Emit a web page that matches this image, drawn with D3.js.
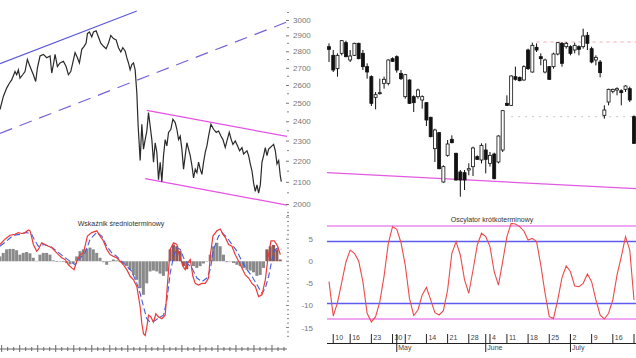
<!DOCTYPE html>
<html><head><meta charset="utf-8">
<script src="https://cdn.jsdelivr.net/npm/d3@7"></script>
<style>body{margin:0;background:#fff}svg{display:block}text{font-family:"Liberation Sans",Arial,sans-serif}</style>
</head><body>
<svg id="c" width="636" height="358"></svg>
<script>
// ---------- LEFT: price line (session index, price) ----------
const priceDay = [0,10,20,28,35,45,50,55,60,68,75,82,90,100,107,112,120,130,140,150,155,160,165,172,180,190,198,205,212,218,225,232,238,245,252,258,262,268,275,280,288,295,302,310,318,325,332,340,348,355,362,368,375,380,385,390,395,400,405,410,414,420,425,430,435,440,445,450,455,460,465,470,475,480,485,490,495,500,505,512,518,525,530,535,540,545,550,555,560,565,570,575,580,585,590,595,600,605,610,615,620,625,632,640,648,655,662,668,675,680,687,693,698,705,712,718,725,730,735,740,745,750,755,760,765,770,775,780,785,790,795,800,805,810,815,820,825,830,835,840,843];
const priceVal = [2463,2535,2582,2610,2629,2678,2659,2688,2639,2659,2678,2750,2708,2659,2620,2698,2771,2781,2761,2771,2669,2719,2781,2708,2729,2739,2708,2659,2678,2729,2792,2761,2729,2812,2831,2851,2911,2922,2890,2922,2929,2890,2851,2831,2816,2851,2900,2880,2871,2822,2796,2822,2802,2761,2729,2688,2719,2729,2688,2554,2375,2201,2384,2257,2305,2349,2446,2375,2305,2193,2289,2241,2110,2193,2101,2225,2305,2273,2342,2358,2411,2393,2358,2305,2323,2257,2160,2225,2289,2257,2225,2177,2118,2160,2143,2193,2160,2135,2193,2241,2273,2323,2384,2358,2342,2349,2323,2305,2265,2298,2342,2305,2281,2298,2273,2249,2265,2233,2241,2249,2225,2185,2152,2094,2056,2086,2049,2086,2193,2225,2265,2225,2257,2265,2273,2281,2249,2185,2201,2127,2101];
const mainTicks = [3000,2900,2800,2700,2600,2500,2400,2300,2200,2100,2000];
const mainMinor = [3050,2950,2850,2750,2650,2550,2450,2350,2250,2150,2050,1950];
// channel lines: [day0, price0, day1, price1]
const upperBlue = [0,2725,410,3060];
const dashedBlue = [0,2337,860,2987];
const magentaTop = [440,2458,860,2321];
const magentaBot = [435,2115,860,1995];

// ---------- LEFT: MACD ----------
const redDay = [0,15,30,45,55,65,75,85,90,95,100,110,115,125,135,145,155,165,175,185,195,205,215,222,230,240,250,262,275,290,300,310,320,330,340,350,360,370,380,390,400,410,420,425,430,435,440,445,452,460,467,475,485,495,502,510,520,530,535,540,548,555,562,570,578,585,595,605,615,625,630,638,650,660,668,675,685,695,705,715,725,735,745,755,765,775,785,795,803,812,822,832,840];
const redVal = [3.8,5.0,5.9,6.1,6.5,6.3,6.5,7.1,6.9,5.4,3.8,2.3,2.7,4.2,3.8,3.4,3.1,2.3,1.5,0.8,0.4,-0.8,-1.5,-1.9,0,1.5,1.9,5.7,6.5,6.9,5.7,4.6,2.7,1.5,1.1,0.8,0,-0.8,-1.9,-3.4,-4.2,-5.7,-10.3,-14.1,-16.4,-16.8,-14.9,-12.2,-12.6,-13.8,-11.9,-12.6,-13.0,-12.2,-5.0,2.7,4.2,3.8,1.9,0.8,-1.1,-1.9,-0.4,0.4,-3.4,-5.0,-5.4,-5.0,-5.0,-3.8,1.1,5.7,6.9,7.3,6.1,5.4,3.8,3.4,1.5,0,-1.5,-3.1,-3.8,-5.0,-5.7,-8.0,-7.6,-4.2,0.8,4.6,4.6,3.4,1.5];
const blueDay = [0,20,40,60,80,95,105,115,130,150,170,190,210,225,240,255,270,290,305,320,335,350,365,380,395,410,420,430,440,450,465,480,490,500,510,520,530,540,550,560,575,590,605,620,630,640,655,665,680,695,710,725,740,755,770,785,795,805,815,825,835,843];
const blueVal = [3.4,4.6,5.9,6.1,6.5,6.1,4.6,3.4,3.8,3.4,2.3,1.1,0,-0.8,0.8,1.9,5.0,6.5,5.7,3.4,1.9,1.1,0,-1.1,-2.3,-5.0,-7.3,-10.3,-13.0,-13.8,-13.4,-12.6,-12.2,-8.8,-2.7,1.1,3.1,2.7,0.8,-0.4,-1.5,-3.8,-4.6,-3.8,-1.9,2.7,5.7,6.5,5.4,3.8,2.3,0,-1.9,-3.4,-5.3,-7.3,-6.1,-3.4,0.4,2.7,3.1,2.7];
const histDay = [0,10,20,30,40,50,60,70,80,90,100,110,120,130,140,150,160,170,180,190,200,210,220,230,240,250,260,270,280,290,300,310,320,330,340,350,360,370,380,390,400,410,420,430,440,450,460,470,480,490,500,510,520,530,540,550,560,570,580,590,600,610,620,630,640,650,660,670,680,690,700,710,720,730,740,750,760,770,780,790,800,810,820,830,840];
const histVal = [1.1,1.9,2.7,2.8,2.8,2.5,1.5,1.9,2.1,1.8,0.8,0.1,1.5,1.9,1.9,1.5,0.2,-0.15,-0.1,-0.15,-0.4,-0.7,-0.5,1.1,2.3,2.7,2.8,3.1,2.7,1.9,0.8,-0.2,-0.8,-0.15,0.4,0.2,-0.2,-0.5,-1.1,-1.9,-3.1,-4.2,-6.1,-7.6,-5.0,-2.3,-2.1,-2.3,-2.8,-3.3,-2.3,2.7,3.8,3.4,2.3,-1.1,-1.8,-0.4,-1.1,-1.5,-1.1,-0.5,-0.1,1.5,3.4,4.2,3.4,1.5,-0.2,-0.1,-0.4,-0.8,-1.1,-1.5,-1.9,-2.1,-2.5,-3.3,-3.1,-1.5,2.7,3.4,3.7,2.7,0.4];
const macdLabels = [5,0,-5,-10,-15];

// ---------- RIGHT: candles ----------
const dates = ["2012-04-05","2012-04-10","2012-04-11","2012-04-12","2012-04-13","2012-04-16","2012-04-17","2012-04-18","2012-04-19","2012-04-20","2012-04-23","2012-04-24","2012-04-25","2012-04-26","2012-04-27","2012-04-30","2012-05-02","2012-05-04","2012-05-07","2012-05-08","2012-05-09","2012-05-10","2012-05-11","2012-05-14","2012-05-15","2012-05-16","2012-05-17","2012-05-18","2012-05-21","2012-05-22","2012-05-23","2012-05-24","2012-05-25","2012-05-28","2012-05-29","2012-05-30","2012-05-31","2012-06-01","2012-06-04","2012-06-05","2012-06-06","2012-06-08","2012-06-11","2012-06-12","2012-06-13","2012-06-14","2012-06-15","2012-06-18","2012-06-19","2012-06-20","2012-06-21","2012-06-22","2012-06-25","2012-06-26","2012-06-27","2012-06-28","2012-06-29","2012-07-02","2012-07-03","2012-07-04","2012-07-05","2012-07-06","2012-07-09","2012-07-10","2012-07-11","2012-07-12","2012-07-13","2012-07-16","2012-07-17","2012-07-18","2012-07-19","2012-07-20","2012-07-23"];
const open  = [2310,2297,2277,2300,2316,2290,2297,2315,2300,2280,2265,2234,2240,2255,2255,2292,2295,2270,2235,2260,2235,2235,2230,2226,2204,2157,2181,2107,2147,2171,2150,2122,2121,2125,2130,2145,2140,2155,2135,2149,2137,2155,2225,2222,2265,2264,2260,2305,2272,2309,2295,2272,2280,2280,2299,2315,2310,2310,2305,2310,2310,2327,2307,2290,2287,2207,2227,2243,2245,2244,2246,2247,2205];
const high  = [2315,2305,2300,2320,2319,2305,2316,2316,2305,2285,2267,2242,2262,2265,2291,2294,2297,2275,2269,2261,2237,2247,2237,2227,2205,2187,2182,2132,2170,2177,2151,2125,2125,2135,2160,2147,2165,2165,2152,2151,2177,2215,2237,2267,2280,2265,2282,2307,2316,2315,2300,2292,2281,2301,2317,2317,2317,2312,2316,2312,2337,2332,2310,2297,2290,2222,2247,2247,2249,2246,2252,2250,2207];
const low   = [2287,2272,2265,2297,2294,2287,2296,2291,2275,2262,2221,2216,2238,2247,2252,2287,2271,2260,2232,2224,2212,2232,2217,2191,2174,2137,2126,2106,2145,2165,2109,2085,2095,2117,2116,2140,2135,2120,2130,2111,2135,2152,2221,2221,2259,2258,2259,2275,2271,2302,2282,2270,2260,2277,2297,2280,2307,2297,2300,2297,2307,2305,2285,2282,2264,2202,2222,2240,2237,2222,2242,2227,2164];
const close = [2306,2275,2297,2319,2295,2296,2315,2292,2280,2272,2225,2238,2241,2261,2290,2288,2275,2262,2268,2225,2226,2245,2235,2200,2175,2185,2127,2130,2164,2166,2110,2110,2110,2127,2158,2141,2162,2141,2147,2112,2176,2214,2222,2266,2261,2259,2280,2277,2312,2305,2292,2290,2261,2299,2316,2285,2315,2300,2312,2306,2326,2315,2287,2294,2271,2215,2246,2246,2247,2241,2251,2230,2165];
const trendLine = [{d:"2012-04-05", v:2121}, {d:"2012-07-23", v:2097}];
const pinkLevel = {from:"2012-06-20", v:2317};
const grayLevel = {from:"2012-06-12", v:2205};

// ---------- RIGHT: oscillator ----------
const osc = [44.1,21.9,30.5,43.7,56.8,64.5,62.4,57.4,44.1,23.7,18.1,21.5,31.2,47.7,68.8,79.6,77.8,69.2,54.8,33.3,22.2,25.8,35.5,40.4,32.3,24.1,22.6,25.4,38.7,62.4,69.9,61.3,45.2,36.6,51.6,67.7,75.3,73.1,66.7,50.5,41.9,57.0,73.1,81.7,81.3,79.6,76.8,71.0,72.0,69.9,54.8,36.6,21.5,20.4,32.3,46.7,54.2,50.5,41.3,40.9,43.0,49.0,44.1,32.3,22.6,20.0,23.7,32.3,48.4,60.2,73.1,64.5,32.3];
const oscOuter = [80,20];
const oscInner = [70,30];
const weekTicks = ["2012-04-10","2012-04-16","2012-04-23","2012-04-30","2012-05-07","2012-05-14","2012-05-21","2012-05-28","2012-06-04","2012-06-11","2012-06-18","2012-06-25","2012-07-02","2012-07-09","2012-07-16","2012-07-23"];
const weekLabels = ["10","16","23","30","7","14","21","28","4","11","18","25","2","9","16",""];
const monthTicks = ["2012-05-02","2012-06-01","2012-07-02"];
const monthLabels = ["May","June","July"];

const svg = d3.select("#c");

// ===== LEFT scales =====
const xL = d3.scaleLinear().domain([0,860]).range([0,287]);
const yMain = d3.scaleLog().domain([2000,3000]).range([204,20]);
const yMacd = d3.scaleLinear().domain([-15,5]).range([327.5,239.2]);

const L = svg.append("g");
const seg = (a, col, w, dash) => L.append("line")
  .attr("x1", xL(a[0])).attr("y1", yMain(a[1])).attr("x2", xL(a[2])).attr("y2", yMain(a[3]))
  .attr("stroke", col).attr("stroke-width", w).attr("stroke-dasharray", dash || null);
seg(upperBlue, "#5a5ad8", 1.2);
seg(dashedBlue, "#7464d8", 1.2, "13,8");
seg(magentaTop, "#e552e5", 1.2);
seg(magentaBot, "#e552e5", 1.2);

L.append("path").datum(priceDay.map((d,i)=>[d,priceVal[i]]))
  .attr("fill","none").attr("stroke","#2a2a2a").attr("stroke-width",1.2)
  .attr("d", d3.line().x(d=>xL(d[0])).y(d=>yMain(d[1])));

// main y axis
const axMain = L.append("g").attr("transform","translate(286,0)");
axMain.call(d3.axisRight(yMain).tickValues(mainTicks).tickSize(3).tickPadding(4).tickFormat(d3.format("d")));
axMain.select(".domain").remove();
axMain.selectAll("text").attr("font-size",8).attr("fill","#777").attr("font-family","Liberation Sans");
axMain.selectAll("line").attr("stroke","#777");
L.selectAll(".minMain").data(mainMinor).join("line")
  .attr("x1",287).attr("x2",289).attr("y1",d=>yMain(d)).attr("y2",d=>yMain(d)).attr("stroke","#888");

// MACD histogram
const brown = d => (d>=505 && d<=565) || (d>=795 && d<=840);
L.selectAll(".hist").data(histDay.map((d,i)=>[d,histVal[i]])).join("rect")
  .attr("x", d=>xL(d[0])-1.6).attr("width", 3.0)
  .attr("y", d=>Math.min(yMacd(d[1]), yMacd(0)))
  .attr("height", d=>Math.abs(yMacd(d[1])-yMacd(0)))
  .attr("fill", d=>brown(d[0]) ? "#8c5a58" : "#8a8a8a");
L.append("path").datum(blueDay.map((d,i)=>[d,blueVal[i]]))
  .attr("fill","none").attr("stroke","#3f5fe0").attr("stroke-width",1.1).attr("stroke-dasharray","6,3")
  .attr("d", d3.line().x(d=>xL(d[0])).y(d=>yMacd(d[1])));
L.append("path").datum(redDay.map((d,i)=>[d,redVal[i]]))
  .attr("fill","none").attr("stroke","#ee3a3a").attr("stroke-width",1.2)
  .attr("d", d3.line().x(d=>xL(d[0])).y(d=>yMacd(d[1])));

// MACD axis
L.selectAll(".mt").data(d3.range(-17,12)).join("line")
  .attr("x1",d=> d%5===0?286:287).attr("x2",289)
  .attr("y1",d=>yMacd(d)).attr("y2",d=>yMacd(d)).attr("stroke","#888");
L.selectAll(".ml").data(macdLabels).join("text")
  .attr("x",313).attr("y",d=>yMacd(d)+3).attr("text-anchor","end")
  .attr("font-size",8).attr("fill","#777").text(d=>d);
L.append("text").attr("x",121).attr("y",226).attr("text-anchor","middle")
  .attr("font-size",7).attr("fill","#333").text("Wskaźnik średnioterminowy");

// left bottom axis
L.append("line").attr("x1",0).attr("x2",287).attr("y1",349).attr("y2",349).attr("stroke","#666");
L.selectAll(".bt").data(d3.range(5,860,18)).join("line")
  .attr("x1",d=>xL(d)).attr("x2",d=>xL(d))
  .attr("y1",(d,i)=> i%3===0?345:347).attr("y2",(d,i)=> i%3===0?352:351)
  .attr("stroke","#666");

// ===== RIGHT scales =====
const xR = d3.scalePoint().domain(dates).range([329,634]);
const yR = d3.scaleLinear().domain([2080,2380]).range([200,0]);
const yO = d3.scaleLinear().domain([0,100]).range([350,195]);
const R = svg.append("g");

// levels
R.append("line").attr("x1",xR(pinkLevel.from)).attr("x2",636).attr("y1",yR(pinkLevel.v)).attr("y2",yR(pinkLevel.v))
  .attr("stroke","#f0a8a8").attr("stroke-width",1).attr("stroke-dasharray","3,4");
R.append("line").attr("x1",xR(grayLevel.from)).attr("x2",636).attr("y1",yR(grayLevel.v)).attr("y2",yR(grayLevel.v))
  .attr("stroke","#c8c8c8").attr("stroke-width",1).attr("stroke-dasharray","2,5");
R.append("line").attr("x1",xR(trendLine[0].d)-2).attr("x2",xR(trendLine[1].d)+2)
  .attr("y1",yR(trendLine[0].v)).attr("y2",yR(trendLine[1].v))
  .attr("stroke","#e25ae2").attr("stroke-width",1.2);

// candles
const cd = dates.map((d,i)=>({d, o:open[i], h:high[i], l:low[i], c:close[i]}));
const cg = R.selectAll(".cd").data(cd).join("g");
cg.append("line").attr("x1",d=>xR(d.d)).attr("x2",d=>xR(d.d))
  .attr("y1",d=>yR(d.h)).attr("y2",d=>yR(d.l)).attr("stroke","#111").attr("stroke-width",1);
cg.append("rect").attr("x",d=>xR(d.d)-1.5).attr("width",3)
  .attr("y",d=>yR(Math.max(d.o,d.c)))
  .attr("height",d=>Math.max(1,Math.abs(yR(d.o)-yR(d.c))))
  .attr("fill",d=>d.c<d.o?"#111":"#fff").attr("stroke","#111").attr("stroke-width",0.8);

// oscillator
oscOuter.forEach(v=>R.append("line").attr("x1",327).attr("x2",636).attr("y1",yO(v)).attr("y2",yO(v))
  .attr("stroke","#e050e0").attr("stroke-width",1.2));
oscInner.forEach(v=>R.append("line").attr("x1",327).attr("x2",636).attr("y1",yO(v)).attr("y2",yO(v))
  .attr("stroke","#5c5cf0").attr("stroke-width",1.3));
R.append("path").datum(osc.map((v,i)=>[dates[i],v]))
  .attr("fill","none").attr("stroke","#ee4a4a").attr("stroke-width",1.1)
  .attr("d", d3.line().x(d=>xR(d[0])).y(d=>yO(d[1])));
R.append("text").attr("x",492).attr("y",222).attr("text-anchor","middle")
  .attr("font-size",7).attr("fill","#333").text("Oscylator krótkoterminowy");

// date axis
R.append("line").attr("x1",327).attr("x2",636).attr("y1",343.5).attr("y2",343.5).attr("stroke","#222");
R.selectAll(".wt").data(weekTicks).join("line")
  .attr("x1",d=>xR(d)).attr("x2",d=>xR(d)).attr("y1",334).attr("y2",343.5).attr("stroke","#222");
R.selectAll(".wl").data(weekTicks.filter((d,i)=>weekLabels[i])).join("text")
  .attr("x",d=>xR(d)+2).attr("y",339.5).attr("font-size",7).attr("fill","#444")
  .text((d,i)=>weekLabels[i]);
R.selectAll(".mtk").data(monthTicks).join("line")
  .attr("x1",d=>xR(d)).attr("x2",d=>xR(d)).attr("y1",334).attr("y2",352).attr("stroke","#222");
R.selectAll(".mlb").data(monthTicks).join("text")
  .attr("x",d=>xR(d)+1.5).attr("y",350).attr("font-size",7).attr("fill","#444")
  .text((d,i)=>monthLabels[i]);
</script>
</body></html>
